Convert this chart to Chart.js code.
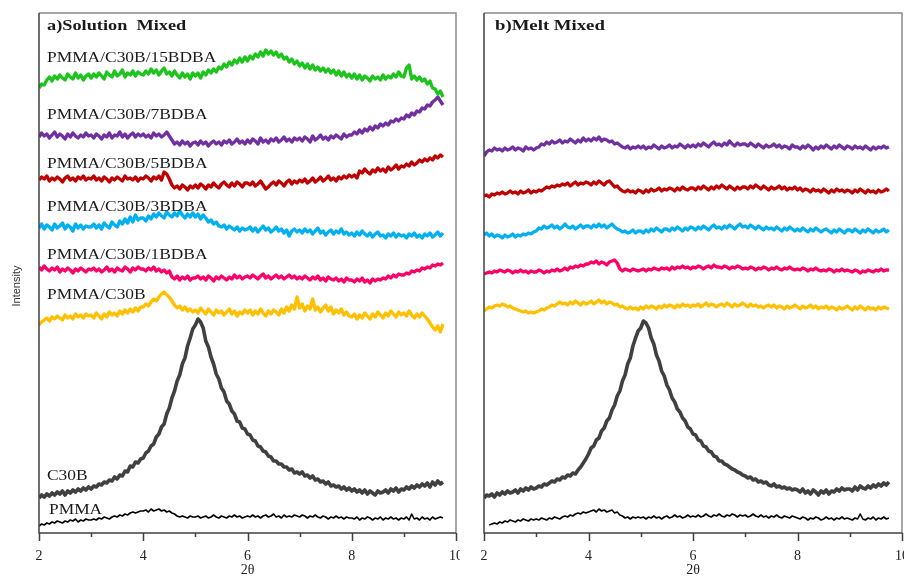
<!DOCTYPE html>
<html>
<head>
<meta charset="utf-8">
<script src="https://cdn.jsdelivr.net/npm/chart.js@4.4.1/dist/chart.umd.min.js"></script>
<style>
html, body { margin: 0; padding: 0; background: #fff; }
#wrap { position: relative; width: 904px; height: 577px; overflow: hidden; }
#left { position: absolute; left: 0; top: 0; }
#right { position: absolute; left: 460px; top: 0; }
</style>
</head>
<body>
<div id="wrap">
  <canvas id="left" width="460" height="577"></canvas>
  <canvas id="right" width="444" height="577"></canvas>
</div>
<script>
// scan grid: 2θ from 2.00 in steps of 0.05 (156 points per pattern)
const X_START = 2;
const X_STEP = 0.05;
const X_TICKS = [2, 3, 4, 5, 6, 7, 8, 9, 10];

// intensities (arbitrary units, patterns are stacked with offsets)
// ---- a) solution mixed ----
const sol15 = [
  445,449,448,453,456,452,457,454,458,455,453,459,456,454,460,455,458,453,457,459,
  455,459,456,460,457,454,461,458,456,462,457,459,463,456,460,458,462,457,461,459,
  458,462,459,464,460,463,458,462,465,459,461,457,462,458,455,460,456,459,454,460,
  457,460,455,461,458,463,460,464,461,466,464,469,466,471,468,473,470,475,471,476,
  472,477,474,479,476,481,477,483,479,482,478,481,476,479,474,476,471,474,469,472,
  467,470,465,469,464,468,463,466,462,465,461,464,460,463,458,462,457,461,456,459,
  455,459,454,458,453,457,455,452,457,454,456,453,458,454,457,455,459,456,461,457,
  456,465,468,454,457,453,456,452,454,449,452,445,444,439,442,436
];
const sol7 = [
  396,400,397,399,395,398,401,396,399,397,394,399,396,400,397,395,398,396,400,397,
  398,395,399,397,394,398,396,400,395,398,397,401,396,399,395,398,400,396,399,397,
  399,396,398,395,400,397,399,396,398,401,397,393,389,391,388,392,389,391,387,390,
  391,388,392,389,391,387,390,392,389,391,388,392,390,393,389,391,394,390,392,389,
  393,390,394,392,389,395,391,393,390,394,392,395,391,393,396,392,394,391,395,393,
  395,392,396,394,391,397,393,395,398,394,396,393,397,395,398,396,394,399,396,398,
  398,401,399,403,400,404,402,406,403,407,405,409,407,410,408,412,411,414,412,415,
  414,418,416,420,418,422,421,425,424,428,427,431,433,436,432,428
];
const sol5 = [
  353,356,354,357,352,355,353,356,354,351,355,357,353,355,352,356,354,357,353,355,
  354,357,353,355,352,356,354,351,355,353,356,354,352,357,354,355,353,356,352,355,
  354,357,355,352,356,354,357,353,361,359,354,348,345,347,344,348,346,343,347,345,
  348,345,349,347,344,348,346,350,347,345,349,351,348,346,350,347,351,349,346,350,
  350,348,351,347,349,352,348,344,346,349,351,348,352,350,347,351,353,349,352,350,
  353,351,354,350,352,355,351,353,356,352,354,357,353,355,352,356,354,357,355,358,
  356,358,355,362,360,364,361,359,363,361,365,362,364,361,366,363,365,368,364,367,
  366,369,367,371,368,370,373,371,374,372,375,373,377,375,378,376
];
const sol3 = [
  305,309,304,308,306,303,309,305,307,310,304,308,306,302,309,305,308,304,307,306,
  306,309,305,308,304,310,307,305,311,308,306,312,309,314,310,316,311,318,313,315,
  315,312,317,314,319,316,320,317,315,321,318,316,320,317,322,318,315,319,316,320,
  316,319,314,318,315,311,313,309,311,307,306,308,304,307,305,303,306,302,305,303,
  304,306,302,305,301,304,307,303,305,301,303,306,302,304,300,303,297,302,304,301,
  303,300,304,301,303,299,302,305,300,302,298,301,303,299,302,300,304,299,301,298,
  300,297,301,298,302,299,297,300,296,299,301,297,298,295,299,297,300,296,299,297,
  298,295,299,297,300,296,298,295,299,297,300,296,298,301,297,300
];
const sol1 = [
  266,263,267,264,262,265,263,266,261,264,262,265,263,260,264,262,265,263,261,264,
  263,265,262,264,261,263,266,262,264,261,265,263,262,266,264,261,265,263,266,264,
  264,262,265,263,266,262,264,261,263,260,262,256,254,257,253,256,254,257,253,255,
  255,257,254,256,253,257,255,252,256,254,257,255,253,256,254,258,255,257,254,256,
  257,255,258,256,254,257,259,255,257,254,256,258,255,257,254,256,258,255,257,254,
  256,254,257,255,253,256,254,257,253,255,252,256,254,253,255,252,254,251,255,253,
  253,251,254,252,255,251,253,250,254,252,254,253,255,254,257,255,258,256,259,258,
  258,260,259,262,261,263,262,265,264,266,265,268,267,269,268,270
];
const solBlend = [
  208,211,213,215,212,216,214,217,215,213,218,215,217,214,219,216,218,215,219,217,
  218,215,220,217,214,219,216,221,218,220,217,222,219,223,220,224,221,225,222,226,
  226,229,227,231,234,232,236,239,241,238,236,232,228,225,227,223,226,222,224,221,
  223,220,225,222,219,224,221,218,223,220,222,218,221,224,219,222,217,221,219,223,
  220,223,218,222,219,224,220,217,222,219,223,221,218,224,220,226,222,228,224,236,
  225,229,222,227,224,234,223,226,221,225,228,222,226,219,223,220,224,218,221,217,
  216,219,214,218,215,220,217,214,219,216,221,218,215,220,217,222,219,216,221,218,
  220,217,222,218,215,219,216,220,217,214,210,206,203,207,201,209
];
const solC30B = [
  35,38,36,39,37,40,38,41,39,42,38,42,40,43,41,44,42,45,43,46,
  44,47,46,49,48,51,50,53,52,56,54,58,57,62,61,67,66,71,70,74,
  75,80,82,87,89,96,99,106,109,119,125,135,142,152,158,169,175,187,195,204,
  208,214,211,205,192,186,176,169,159,154,145,141,132,129,122,119,112,111,105,104,
  99,98,93,92,87,86,82,81,77,76,72,72,69,69,66,66,63,64,60,61,
  59,61,57,58,55,57,53,54,51,52,49,51,47,48,46,47,44,46,43,45,
  42,44,41,43,40,43,39,42,40,38,42,40,41,43,40,44,42,45,41,44,
  43,46,44,47,45,48,46,49,47,50,46,51,48,52,49,51
];
const solPMMA = [
  7,9,8,10,9,11,10,12,11,10,12,11,13,12,14,11,13,12,14,13,
  13,14,13,15,14,16,15,14,16,17,16,18,17,19,18,20,21,20,21,22,
  22,23,21,24,22,23,24,22,23,21,22,20,19,17,16,17,16,15,17,16,
  16,17,15,16,17,15,16,18,16,15,17,16,15,17,16,18,16,17,15,16,
  17,16,18,16,17,15,17,18,16,17,19,16,17,15,18,16,17,16,18,17,
  16,18,17,15,17,16,18,16,15,17,16,14,16,15,17,15,16,14,16,15,
  15,14,16,13,15,14,16,15,13,15,14,16,13,15,14,16,14,15,13,15,
  14,16,13,19,14,15,13,16,14,15,13,16,14,15,16,15
];

// ---- b) melt mixed ----
const melt7 = [
  377,381,383,382,385,383,384,382,385,383,384,386,383,385,384,382,386,384,385,383,
  385,386,389,388,391,389,392,390,391,393,390,392,391,394,392,390,393,391,395,392,
  394,392,395,393,396,392,394,393,391,392,389,390,388,386,385,387,384,386,385,387,
  385,387,384,386,385,388,386,384,387,385,386,388,385,387,386,389,387,385,388,386,
  388,386,389,387,390,388,386,389,391,388,389,387,390,388,392,389,387,390,388,389,
  389,387,390,388,386,389,387,385,388,386,387,389,386,388,385,387,386,384,388,386,
  386,384,387,385,388,386,383,386,384,387,385,388,386,384,387,385,388,386,384,387,
  386,384,387,385,386,384,387,385,383,386,384,386,385,387,385,386
];
const melt5 = [
  337,338,336,339,338,340,339,341,339,340,342,340,341,339,342,340,341,343,340,342,
  341,343,342,344,346,345,347,346,348,347,349,348,350,347,349,351,348,350,349,351,
  350,348,351,349,352,350,348,351,352,349,346,347,344,342,341,343,341,342,340,343,
  342,340,343,341,344,342,343,345,342,344,343,345,344,342,345,343,346,344,343,345,
  345,343,346,344,347,345,343,346,344,347,345,348,346,344,347,345,343,346,344,346,
  346,344,347,345,348,346,344,347,345,343,346,344,345,347,344,346,343,345,344,346,
  343,345,342,344,343,341,344,342,343,341,344,342,340,343,341,344,342,343,341,343,
  342,340,343,341,344,342,340,343,341,342,340,343,341,342,344,342
];
const melt3 = [
  298,300,297,299,296,298,297,295,298,296,297,299,296,298,297,299,298,300,299,301,
  302,305,304,307,305,306,308,305,307,304,306,309,306,305,307,304,306,308,305,307,
  307,305,308,306,309,306,308,305,307,309,306,304,303,301,302,300,301,303,300,302,
  302,300,303,301,304,302,305,303,301,304,304,302,305,303,306,304,302,305,303,306,
  305,303,306,304,307,305,303,306,308,305,306,304,307,305,308,306,304,307,309,306,
  307,305,308,306,304,307,305,303,306,304,305,303,306,304,302,305,303,306,304,302,
  304,302,305,303,301,304,302,305,303,301,303,304,302,300,303,301,304,302,300,303,
  303,301,304,302,300,303,301,304,302,300,303,301,302,304,301,303
];
const melt1 = [
  259,260,261,260,262,261,263,262,261,263,262,260,262,261,263,261,262,260,262,261,
  261,263,262,260,262,261,263,262,264,262,263,265,263,266,265,267,266,268,267,269,
  269,271,270,272,269,271,270,268,271,272,273,270,264,262,264,263,262,264,263,262,
  263,264,262,264,263,265,264,263,265,264,265,263,266,264,266,265,267,265,266,264,
  266,265,267,266,264,266,267,265,268,266,266,265,267,266,264,266,265,267,266,264,
  265,264,266,265,263,265,264,266,265,263,265,264,266,264,263,265,264,266,264,263,
  264,263,265,264,262,264,263,265,263,262,263,262,264,263,261,263,262,264,262,263,
  262,261,263,262,260,262,261,263,262,261,263,262,264,262,263,263
];
const meltBlend = [
  222,224,226,225,227,228,227,229,228,226,227,225,224,223,222,221,222,220,221,220,
  221,222,224,223,225,226,228,227,229,231,229,230,228,231,229,232,230,228,231,229,
  230,232,229,231,233,230,232,229,231,230,228,229,226,227,225,224,226,224,225,223,
  226,224,227,225,227,226,224,227,225,228,226,228,227,225,228,226,229,227,228,226,
  228,227,229,226,228,230,227,229,228,226,228,229,227,230,228,226,229,227,228,230,
  228,226,229,227,228,226,227,225,227,228,226,228,225,227,226,224,227,225,226,228,
  226,224,227,225,226,228,225,227,224,226,225,227,224,226,225,223,226,224,225,227,
  225,223,226,224,227,225,223,226,224,225,223,226,224,226,225,224
];
const meltC30B = [
  35,38,37,39,36,40,38,41,39,42,40,41,43,40,44,42,45,43,46,44,
  45,47,46,49,48,50,52,51,54,53,56,55,58,57,60,59,63,66,70,74,
  79,85,87,93,95,102,105,112,115,123,128,137,142,152,158,169,175,187,195,202,
  205,212,210,205,195,189,178,172,162,157,148,143,135,131,124,121,115,112,106,104,
  99,98,93,92,87,86,82,81,77,76,72,72,69,68,66,64,63,61,60,58,
  57,55,56,53,54,51,52,50,51,48,47,49,46,47,45,46,44,45,43,44,
  43,41,44,40,42,39,43,41,38,42,40,43,39,42,41,44,42,45,43,44,
  44,42,46,43,47,45,44,47,45,48,46,49,47,50,48,51
];
const meltPMMA = [
  null,null,8,9,10,9,11,10,12,11,13,12,11,13,12,14,13,12,14,13,
  14,13,15,14,13,15,14,16,15,14,16,17,16,18,17,19,20,19,21,20,
  21,22,23,21,24,22,23,21,22,23,20,21,18,17,15,16,14,16,15,16,
  15,16,14,16,15,17,15,16,14,16,17,15,16,18,16,17,15,16,18,16,
  17,16,18,16,17,19,17,16,18,17,19,17,16,18,17,19,18,16,18,17,
  18,16,17,19,17,16,18,16,17,15,17,16,18,16,15,17,16,15,17,16,
  15,14,16,15,13,15,14,16,15,13,14,16,14,15,13,15,14,16,14,15,
  14,13,15,14,19,14,13,15,14,16,13,15,14,16,14,15
];

const seriesNames = ['PMMA/C30B/15BDBA', 'PMMA/C30B/7BDBA', 'PMMA/C30B/5BDBA', 'PMMA/C30B/3BDBA',
                     'PMMA/C30B/1BDBA', 'PMMA/C30B', 'C30B', 'PMMA'];
const panelTitles = ['a)Solution  Mixed', 'b)Melt Mixed'];

// line styles
const colors = ['#1DC41D', '#7030A0', '#C00000', '#00B0F0', '#FF0066', '#FFC000', '#404040', '#000000'];
const widths = [3.4, 3.4, 3.4, 3.4, 3.4, 3.4, 3.6, 1.6];

function toPoints(ys) {
    return ys.map((y, i) => ({ x: X_START + i * X_STEP, y: y }));
}

function buildDatasets(list) {
    return list.map((ys, k) => ({
        label: seriesNames[k],
        data: ys ? toPoints(ys) : [],
        borderColor: colors[k],
        borderWidth: widths[k],
        pointRadius: 0,
        tension: 0,
        borderJoinStyle: 'round',
        fill: false
    }));
}

function drawStretched(ctx, text, x, y, font, sx) {
    ctx.save();
    ctx.translate(x, y);
    ctx.scale(sx, 1);
    ctx.font = font;
    ctx.textAlign = 'left';
    ctx.textBaseline = 'alphabetic';
    ctx.fillStyle = '#1a1a1a';
    ctx.fillText(text, 0, 0);
    ctx.restore();
}

// frame, tick marks and texts
const panelDeco = {
    id: 'panelDeco',
    afterDraw(chart, args, opts) {
        const ctx = chart.ctx;
        const a = chart.chartArea;
        const xs = chart.scales.x;
        ctx.save();
        ctx.lineWidth = 1.5;
        ctx.strokeStyle = '#8a8a8a';
        ctx.beginPath();
        ctx.moveTo(a.left, a.top);
        ctx.lineTo(a.right, a.top);
        ctx.lineTo(a.right, a.bottom);
        ctx.stroke();
        ctx.strokeStyle = '#404040';
        ctx.beginPath();
        ctx.moveTo(a.left, a.top);
        ctx.lineTo(a.left, a.bottom);
        ctx.lineTo(a.right, a.bottom);
        ctx.stroke();
        ctx.beginPath();
        X_TICKS.forEach(v => {
            const px = Math.round(xs.getPixelForValue(v)) + 0.5;
            const len = v % 2 === 0 ? 8 : 4;
            ctx.moveTo(px, a.bottom);
            ctx.lineTo(px, a.bottom + len);
        });
        ctx.stroke();
        ctx.restore();

        drawStretched(ctx, opts.title, opts.titleX, 30, 'bold 15px "Liberation Serif", serif', opts.titleScale);
        (opts.labels || []).forEach(l => {
            drawStretched(ctx, l.text, l.x, l.y, '15px "Liberation Serif", serif', 1.16);
        });
        if (opts.yTitle) {
            ctx.save();
            ctx.translate(17, 286);
            ctx.rotate(-Math.PI / 2);
            ctx.font = '11px "Liberation Sans", sans-serif';
            ctx.fillStyle = '#333';
            ctx.textAlign = 'center';
            ctx.textBaseline = 'middle';
            ctx.fillText(opts.yTitle, 0, 0);
            ctx.restore();
        }
    }
};

function makeChart(id, list, padding, deco) {
    return new Chart(document.getElementById(id), {
        type: 'line',
        data: { datasets: buildDatasets(list) },
        options: {
            responsive: false,
            devicePixelRatio: 1,
            animation: false,
            layout: { padding: padding },
            plugins: {
                legend: { display: false },
                tooltip: { enabled: false },
                panelDeco: deco
            },
            scales: {
                x: {
                    type: 'linear',
                    min: 2,
                    max: 10,
                    grid: { display: false, drawTicks: true, tickLength: 8 },
                    border: { display: false },
                    ticks: {
                        stepSize: 1,
                        autoSkip: false,
                        maxRotation: 0,
                        padding: 7,
                        color: '#222',
                        font: { family: '"Liberation Serif", serif', size: 14 },
                        callback: v => (v % 2 === 0 ? v : '')
                    },
                    title: {
                        display: true,
                        text: '2θ',
                        color: '#222',
                        padding: { top: 0, bottom: 0 },
                        font: { family: '"Liberation Serif", serif', size: 14, lineHeight: 1 }
                    },
                    afterFit: s => { s.height = 44; s.paddingLeft = 0; s.paddingRight = 0; }
                },
                y: { display: false, min: 0, max: 520 }
            }
        },
        plugins: [panelDeco]
    });
}

// label baselines in the solution panel
const labelY = [62, 119, 168, 211, 259, 299, 480, 514];

makeChart('left',
    [sol15, sol7, sol5, sol3, sol1, solBlend, solC30B, solPMMA],
    { left: 39, right: 4, top: 13, bottom: 0 },
    {
        title: panelTitles[0], titleX: 47, titleScale: 1.22,
        yTitle: 'Intensity',
        labels: seriesNames.map((t, i) => ({ text: t, x: i === 7 ? 49 : 47, y: labelY[i] }))
    });

makeChart('right',
    [null, melt7, melt5, melt3, melt1, meltBlend, meltC30B, meltPMMA],
    { left: 24, right: 2, top: 13, bottom: 0 },
    { title: panelTitles[1], titleX: 35, titleScale: 1.25 });
</script>
</body>
</html>
